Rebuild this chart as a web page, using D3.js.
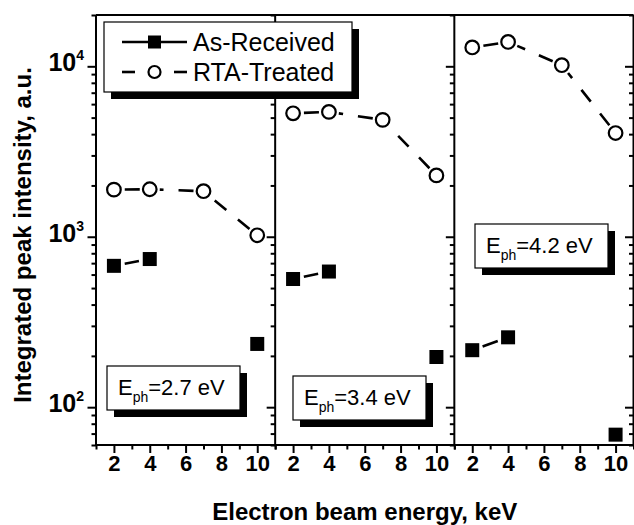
<!DOCTYPE html>
<html><head><meta charset="utf-8">
<script src="https://cdn.jsdelivr.net/npm/d3@7"></script>
<style>
html,body{margin:0;padding:0;background:#fff;}
svg{display:block;}
text{font-family:"Liberation Sans",Arial,sans-serif;fill:#000;}
</style></head>
<body><div id="chart"></div>
<script>
// ---- data ----
const energy = [2, 4, 7, 10];
const phEnergies = ["2.7", "3.4", "4.2"];
const asReceived27 = [675, 740, null, 235];
const asReceived34 = [565, 625, null, 197];
const asReceived42 = [216, 257, null, 69];
const rta27 = [1890, 1900, 1850, 1020];
const rta34 = [5300, 5400, 4850, 2290];
const rta42 = [12900, 13900, 10150, 4060];
const xMajor = [2, 4, 6, 8, 10];
const xMinor = [1, 3, 5, 7, 9, 11];
const yMajor = [100, 1000, 10000];
const yMinor = [60, 70, 80, 90, 200, 300, 400, 500, 600, 700, 800, 900,
                2000, 3000, 4000, 5000, 6000, 7000, 8000, 9000, 20000];
const seriesNames = ["As-Received", "RTA-Treated"];
const xTitle = "Electron beam energy, keV";
const yTitle = "Integrated peak intensity, a.u.";

const asReceived = [asReceived27, asReceived34, asReceived42];
const rta = [rta27, rta34, rta42];

// ---- layout ----
const W = 634, H = 525;
const plot = {left: 96, right: 633.5, top: 15, bottom: 445};
const pw = (plot.right - plot.left) / 3;
const y = d3.scaleLog().domain([60, 20000]).range([plot.bottom, plot.top]);

const svg = d3.select("#chart").append("svg").attr("width", W).attr("height", H);

const phBoxes = [
  {x: 107, y: 366}, {x: 293, y: 376}, {x: 475, y: 224}
];

function shorten(p, q, d) {
  const dx = q[0] - p[0], dy = q[1] - p[1];
  const L = Math.hypot(dx, dy);
  return [[p[0] + dx * d / L, p[1] + dy * d / L], [q[0] - dx * d / L, q[1] - dy * d / L]];
}

phEnergies.forEach((ph, i) => {
  const x0 = plot.left + i * pw;
  const x = d3.scaleLinear().domain([1, 11]).range([x0, x0 + pw]);
  const g = svg.append("g");

  const bx = g.append("g").attr("transform", `translate(0,${plot.bottom})`)
    .call(d3.axisBottom(x).tickValues(xMajor).tickSize(8).tickPadding(2).tickFormat(d3.format("d")));
  bx.select(".domain").remove();
  bx.selectAll("line").attr("stroke-width", 2);
  bx.selectAll("text").attr("font-size", 22).attr("font-weight", "bold")
    .style("font-family", '"Liberation Sans",Arial,sans-serif');
  const bxm = g.append("g").attr("transform", `translate(0,${plot.bottom})`)
    .call(d3.axisBottom(x).tickValues(xMinor).tickSize(4.5).tickFormat(""));
  bxm.select(".domain").remove();
  bxm.selectAll("line").attr("stroke-width", 2);

  const rx = g.append("g").attr("transform", `translate(${x0 + pw},0)`)
    .call(d3.axisLeft(y).tickValues(yMajor).tickSize(8.5).tickFormat(""));
  rx.select(".domain").remove();
  rx.selectAll("line").attr("stroke-width", 2);
  const rxm = g.append("g").attr("transform", `translate(${x0 + pw},0)`)
    .call(d3.axisLeft(y).tickValues(yMinor).tickSize(4.5).tickFormat(""));
  rxm.select(".domain").remove();
  rxm.selectAll("line").attr("stroke-width", 2);

  const rt = rta[i];
  for (let k = 0; k < energy.length - 1; k++) {
    if (rt[k] == null || rt[k + 1] == null) continue;
    const p = [x(energy[k]), y(rt[k])], q = [x(energy[k + 1]), y(rt[k + 1])];
    const [a, b] = shorten(q, p, 10);
    g.append("line").attr("x1", a[0]).attr("y1", a[1]).attr("x2", b[0]).attr("y2", b[1])
      .attr("stroke", "#000").attr("stroke-width", 2.6).attr("stroke-dasharray", "15,15");
  }
  const ar = asReceived[i];
  for (let k = 0; k < energy.length - 1; k++) {
    if (ar[k] == null || ar[k + 1] == null) continue;
    const p = [x(energy[k]), y(ar[k])], q = [x(energy[k + 1]), y(ar[k + 1])];
    const [a, b] = shorten(p, q, 11);
    g.append("line").attr("x1", a[0]).attr("y1", a[1]).attr("x2", b[0]).attr("y2", b[1])
      .attr("stroke", "#000").attr("stroke-width", 2.6);
  }
  energy.forEach((e, k) => {
    if (rt[k] != null)
      g.append("circle").attr("cx", x(e)).attr("cy", y(rt[k])).attr("r", 6.8)
        .attr("fill", "#fff").attr("stroke", "#000").attr("stroke-width", 2.2);
    if (ar[k] != null)
      g.append("rect").attr("x", x(e) - 7).attr("y", y(ar[k]) - 7).attr("width", 14).attr("height", 14)
        .attr("fill", "#000");
  });

  const bxp = phBoxes[i];
  g.append("rect").attr("x", bxp.x + 7).attr("y", bxp.y + 7).attr("width", 133).attr("height", 44).attr("fill", "#000");
  g.append("rect").attr("x", bxp.x).attr("y", bxp.y).attr("width", 133).attr("height", 44)
    .attr("fill", "#fff").attr("stroke", "#000").attr("stroke-width", 1.2);
  const t = g.append("text").attr("x", bxp.x + 11).attr("y", bxp.y + 29).attr("font-size", 22);
  t.append("tspan").text("E");
  t.append("tspan").attr("font-size", 14).attr("dy", 7).text("ph");
  t.append("tspan").attr("dy", -7).text("=" + ph + " eV");
});

const ly = svg.append("g").attr("transform", `translate(${plot.left},0)`)
  .call(d3.axisLeft(y).tickValues(yMajor).tickSize(8.5).tickFormat(""));
ly.select(".domain").remove();
ly.selectAll("line").attr("stroke-width", 2);
const lym = svg.append("g").attr("transform", `translate(${plot.left},0)`)
  .call(d3.axisLeft(y).tickValues(yMinor).tickSize(4.5).tickFormat(""));
lym.select(".domain").remove();
lym.selectAll("line").attr("stroke-width", 2);
yMajor.forEach(v => {
  const tx = svg.append("text").attr("x", 84).attr("y", y(v) + 5).attr("text-anchor", "end")
    .attr("font-size", 25).attr("font-weight", "bold");
  tx.append("tspan").text("10");
  tx.append("tspan").attr("font-size", 14).attr("dy", -11).text(String(Math.round(Math.log10(v))));
});

const frame = svg.append("g").attr("stroke", "#000").attr("stroke-width", 2).attr("fill", "none");
frame.append("line").attr("x1", plot.left).attr("x2", plot.right).attr("y1", plot.top).attr("y2", plot.top);
frame.append("line").attr("x1", plot.left).attr("x2", plot.right).attr("y1", plot.bottom).attr("y2", plot.bottom);
[0, 1, 2, 3].forEach(i => {
  const xx = plot.left + i * pw;
  frame.append("line").attr("x1", xx).attr("x2", xx).attr("y1", plot.top).attr("y2", plot.bottom);
});

const lg = svg.append("g");
lg.append("rect").attr("x", 111).attr("y", 29).attr("width", 248).attr("height", 70).attr("fill", "#000");
lg.append("rect").attr("x", 104).attr("y", 22).attr("width", 248).attr("height", 70)
  .attr("fill", "#fff").attr("stroke", "#000").attr("stroke-width", 1.2);
lg.append("line").attr("x1", 122).attr("x2", 187).attr("y1", 42).attr("y2", 42).attr("stroke", "#000").attr("stroke-width", 2.6);
lg.append("rect").attr("x", 148).attr("y", 35.5).attr("width", 13).attr("height", 13).attr("fill", "#000");
lg.append("line").attr("x1", 122).attr("x2", 135).attr("y1", 72).attr("y2", 72).attr("stroke", "#000").attr("stroke-width", 2.6);
lg.append("line").attr("x1", 174).attr("x2", 187).attr("y1", 72).attr("y2", 72).attr("stroke", "#000").attr("stroke-width", 2.6);
lg.append("circle").attr("cx", 154.5).attr("cy", 72).attr("r", 6).attr("fill", "#fff").attr("stroke", "#000").attr("stroke-width", 2.2);
lg.append("text").attr("x", 193).attr("y", 50.5).attr("font-size", 25).text(seriesNames[0]);
lg.append("text").attr("x", 193).attr("y", 80.5).attr("font-size", 25).text(seriesNames[1]);

svg.append("text").attr("x", (plot.left + plot.right) / 2).attr("y", 520).attr("text-anchor", "middle")
  .attr("font-size", 24).attr("font-weight", "bold").text(xTitle);
svg.append("text").attr("transform", "translate(31,235) rotate(-90)").attr("text-anchor", "middle")
  .attr("font-size", 24).attr("font-weight", "bold").text(yTitle);
</script></body></html>
